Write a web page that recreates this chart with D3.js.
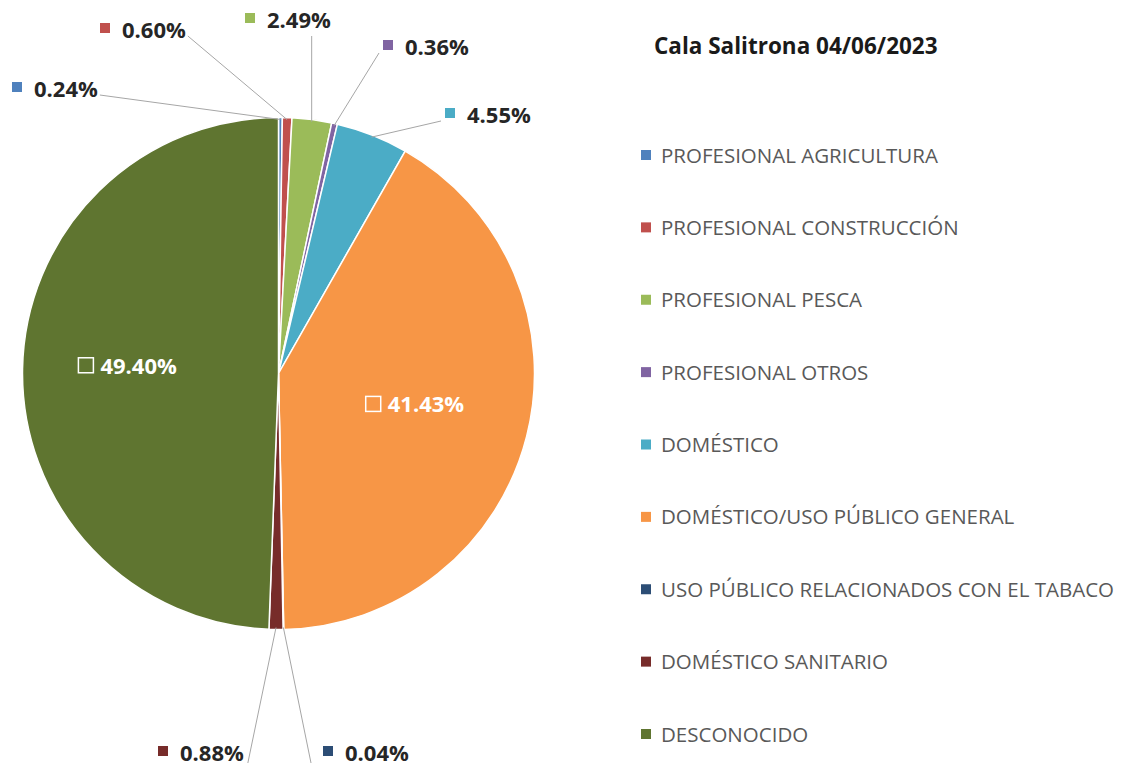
<!DOCTYPE html>
<html>
<head>
<meta charset="utf-8">
<script src="https://cdn.jsdelivr.net/npm/d3@7"></script>
<style>
  body { margin: 0; background: #fff; }
  svg text { font-family: "Open Sans", "DejaVu Sans", sans-serif; }
</style>
</head>
<body>
<div id="chart"></div>
<script>
// Cala Salitrona - pie chart

const title = 'Cala Salitrona 04/06/2023';

const categories = [
    'PROFESIONAL AGRICULTURA',
    'PROFESIONAL CONSTRUCCIÓN',
    'PROFESIONAL PESCA',
    'PROFESIONAL OTROS',
    'DOMÉSTICO',
    'DOMÉSTICO/USO PÚBLICO GENERAL',
    'USO PÚBLICO RELACIONADOS CON EL TABACO',
    'DOMÉSTICO SANITARIO',
    'DESCONOCIDO'
];

const values = [0.24, 0.60, 2.49, 0.36, 4.55, 41.43, 0.04, 0.88, 49.40];

const colors = ['#4F81BD', '#C0504D', '#9BBB59', '#8064A2', '#4BACC6',
    '#F79646', '#2C4D75', '#772C2A', '#5F7530'];

// label placement (marker x, baseline y) for outside labels, null = inside slice
const labelPos = [
    [12, 97], [100, 38], [245, 28], [383, 55], [445, 123],
    null, [323, 761], [158, 761], null
];

function drawChart() {
    const width = 1122, height = 766;
    const cx = 278.5, cy = 373.5, radius = 256;

    const svg = d3.select('#chart').append('svg')
        .attr('width', width)
        .attr('height', height);

    const data = categories.map((name, i) => ({ name, value: values[i], color: colors[i], pos: labelPos[i] }));

    const pie = d3.pie().value(d => d.value).sort(null);
    const arc = d3.arc().innerRadius(0).outerRadius(radius);
    const edge = d3.arc().innerRadius(radius - 2).outerRadius(radius - 2);

    const g = svg.append('g').attr('transform', `translate(${cx},${cy})`);
    const arcs = pie(data);

    g.selectAll('path')
        .data(arcs)
        .enter()
        .append('path')
        .attr('d', arc)
        .attr('fill', d => d.data.color)
        .attr('stroke', '#fff')
        .attr('stroke-width', 1.5);

    const fmt = v => v.toFixed(2) + '%';

    // leader lines + outside labels
    arcs.filter(d => d.data.pos).forEach(d => {
        const [lx, ly] = d.data.pos;
        const p = edge.centroid(d);
        const sx = p[0] + cx, sy = p[1] + cy;
        const below = ly > cy;
        const lab = svg.append('g');

        lab.append('rect')
            .attr('x', lx).attr('y', ly - 15)
            .attr('width', 10).attr('height', 10)
            .attr('fill', d.data.color);

        const t = lab.append('text')
            .attr('x', lx + 22).attr('y', ly)
            .attr('font-size', '22px')
            .attr('font-weight', 700)
            .attr('fill', '#262626')
            .text(fmt(d.data.value));

        const tw = t.node().getComputedTextLength();
        let ax, ay;
        if (below) {
            ay = ly + 2;
            ax = sx < lx ? lx - 12 : lx + 22 + tw + 4;
        } else {
            ay = ly - 2;
            if (lx + 22 + tw < sx) ax = lx + 22 + tw + 2;
            else if (lx > sx) ax = lx - 4;
            else { ax = sx; ay = ly + 8; }
        }
        svg.append('path')
            .attr('d', `M${ax},${ay}L${sx},${sy}`)
            .attr('fill', 'none')
            .attr('stroke', '#a6a6a6')
            .attr('stroke-width', 1);
    });

    // inside labels for the two large slices
    const inner = d3.arc().innerRadius(radius * 0.57).outerRadius(radius * 0.57);
    arcs.filter(d => !d.data.pos).forEach(d => {
        const c = inner.centroid(d);
        const x = c[0] + cx - 5, y = c[1] + cy - 5;
        const lab = svg.append('g');
        const t = lab.append('text')
            .attr('x', x + 11).attr('y', y + 8)
            .attr('text-anchor', 'middle')
            .attr('font-size', '22px')
            .attr('font-weight', 700)
            .attr('fill', '#fff')
            .text(fmt(d.data.value));
        const tw = t.node().getComputedTextLength();
        lab.append('rect')
            .attr('x', x + 11 - tw / 2 - 22).attr('y', y - 8)
            .attr('width', 15).attr('height', 15)
            .attr('fill', 'none')
            .attr('stroke', '#fff')
            .attr('stroke-width', 1.5);
    });

    // title
    svg.append('text')
        .attr('x', 654).attr('y', 54)
        .attr('font-size', '22.5px')
        .attr('font-weight', 700)
        .attr('fill', '#1a1a1a')
        .text(title);

    // legend
    const legendY = d3.scalePoint()
        .domain(categories)
        .range([155, 734]);

    const item = svg.append('g').selectAll('g')
        .data(data)
        .enter()
        .append('g')
        .attr('transform', d => `translate(641,${legendY(d.name)})`);

    item.append('rect')
        .attr('y', -5)
        .attr('width', 10).attr('height', 10)
        .attr('fill', d => d.color);

    item.append('text')
        .attr('x', 20).attr('y', 7.5)
        .attr('font-size', '20.5px')
        .attr('fill', '#595959')
        .text(d => d.name);
}

drawChart();
</script>
</body>
</html>
